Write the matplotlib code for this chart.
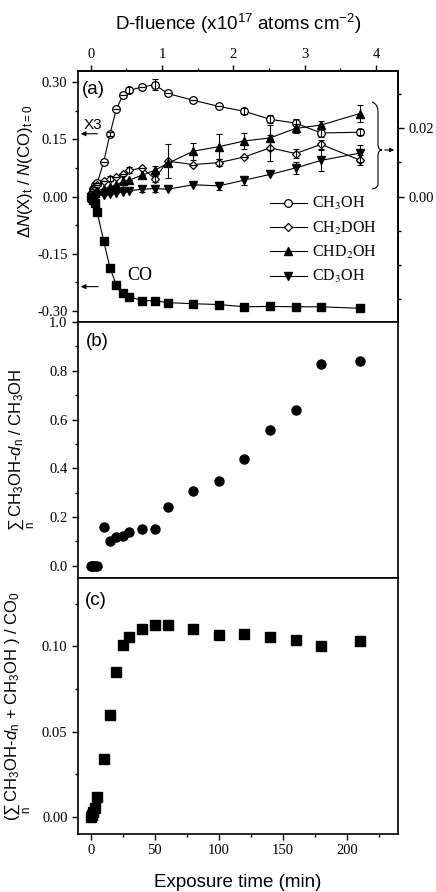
import matplotlib
matplotlib.use("Agg")
import matplotlib.pyplot as plt
from matplotlib.ticker import MultipleLocator, FormatStrFormatter
from matplotlib.path import Path
from matplotlib.patches import PathPatch

# temps d'exposition (min)
t = [0, 1, 2, 3, 5, 10, 15, 20, 25, 30, 40, 50, 60, 80, 100, 120, 140, 160, 180, 210]

# panneau (a)
co = [0, -0.004, -0.010, -0.018, -0.042, -0.116, -0.188, -0.233, -0.255, -0.263,
      -0.274, -0.274, -0.279, -0.282, -0.284, -0.290, -0.289, -0.290, -0.290, -0.294]
ch3oh = [0, 0.010, 0.020, 0.030, 0.035, 0.090, 0.165, 0.230, 0.266, 0.279,
         0.288, 0.294, 0.271, 0.253, 0.237, 0.224, 0.203, 0.193, 0.167, 0.169]
ch2doh = [0, 0.010, 0.020, 0.025, 0.030, 0.041, 0.047, 0.052, 0.060, 0.069,
          0.075, 0.047, 0.093, 0.084, 0.089, 0.104, 0.128, 0.113, 0.137, 0.096]
chd2oh = [0, 0.003, 0.006, 0.010, 0.015, 0.020, 0.025, 0.030, 0.040, 0.043,
          0.056, 0.069, 0.087, 0.119, 0.131, 0.146, 0.154, 0.179, 0.188, 0.218]
cd3oh = [0, -0.005, 0, 0.002, 0.003, 0.005, 0.007, 0.010, 0.012, 0.015,
         0.019, 0.021, 0.019, 0.031, 0.028, 0.043, 0.058, 0.075, 0.095, 0.114]

# barres d'erreur
err_ch3oh = [0, 0, 0, 0, 0, 0, 0.005, 0, 0, 0.008, 0, 0.014, 0, 0, 0, 0.008, 0.010, 0.012, 0.010, 0.008]
err_ch2doh = [0, 0, 0, 0, 0, 0, 0.006, 0, 0, 0.008, 0, 0.008, 0.045, 0, 0.010, 0, 0.035, 0.012, 0.012, 0.012]
err_chd2oh = [0, 0, 0, 0, 0, 0, 0, 0, 0.015, 0, 0, 0.012, 0, 0.022, 0.033, 0.020, 0.033, 0.012, 0.010, 0.022]
err_cd3oh = [0, 0, 0, 0, 0, 0, 0, 0, 0, 0, 0.008, 0.010, 0, 0, 0.010, 0.012, 0, 0.015, 0.028, 0.022]

# panneau (b)
ratio_d = [0, 0, 0, 0, 0, 0.158, 0.103, 0.117, 0.122, 0.138,
           0.152, 0.150, 0.241, 0.305, 0.347, 0.437, 0.556, 0.638, 0.826, 0.841]
# panneau (c)
ratio_co = [0, 0.001, 0.003, 0.005, 0.0115, 0.034, 0.060, 0.085, 0.1006, 0.1055,
            0.110, 0.1127, 0.1124, 0.110, 0.1065, 0.1073, 0.1055, 0.1037, 0.1004, 0.1033]

SERIF = "Liberation Serif"
SANS = "Liberation Sans"
plt.rcParams["font.family"] = SERIF
plt.rcParams["mathtext.fontset"] = "custom"
plt.rcParams["mathtext.rm"] = SANS
plt.rcParams["mathtext.it"] = SANS + ":italic"
plt.rcParams["mathtext.bf"] = SANS + ":bold"

W, H = 436, 892
fig = plt.figure(figsize=(W / 100, H / 100), dpi=100)

def box(top, bottom):
    return [78 / W, 1 - bottom / H, 320 / W, (bottom - top) / H]

ax1 = fig.add_axes(box(71, 322))
ax2 = fig.add_axes(box(322, 578), sharex=ax1)
ax3 = fig.add_axes(box(578, 834), sharex=ax1)

for ax in (ax1, ax2, ax3):
    for s in ax.spines.values():
        s.set_linewidth(1.2)
    ax.tick_params(which="both", direction="out", width=1, labelsize=10.5, right=False, top=False)
    ax.tick_params(which="major", length=4)
    ax.tick_params(which="minor", length=2.5)
    ax.xaxis.set_major_locator(MultipleLocator(50))
    ax.xaxis.set_minor_locator(MultipleLocator(25))
ax1.tick_params(labelbottom=False)
ax2.tick_params(labelbottom=False)
ax1.set_xlim(-10, 240)

# (a)
lw = 0.8
ax1.plot(t, co, "-s", color="k", lw=lw, ms=6, mfc="k", mec="k")
ax1.plot(t, ch3oh, "-o", color="k", lw=lw, ms=5.5, mfc="white", mec="k", mew=0.9, label="CH$_3$OH")
ax1.plot(t, ch2doh, "-D", color="k", lw=lw, ms=4.5, mfc="white", mec="k", mew=0.9, label="CH$_2$DOH")
ax1.plot(t, chd2oh, "-^", color="k", lw=lw, ms=6, mfc="k", mec="k", label="CHD$_2$OH")
ax1.plot(t, cd3oh, "-v", color="k", lw=lw, ms=6, mfc="k", mec="k", label="CD$_3$OH")
for y, e in [(ch3oh, err_ch3oh), (ch2doh, err_ch2doh), (chd2oh, err_chd2oh), (cd3oh, err_cd3oh)]:
    ax1.errorbar(t, y, yerr=e, fmt="none", ecolor="k", elinewidth=0.8, capsize=2, capthick=0.8)

ax1.set_ylim(-0.33, 0.33)
ax1.set_yticks([-0.30, -0.15, 0.0, 0.15, 0.30])
ax1.yaxis.set_minor_locator(MultipleLocator(0.075))
ax1.yaxis.set_major_formatter(FormatStrFormatter("%.2f"))
ax1.set_ylabel("Δ$\\mathit{N}$(X)$_\\mathrm{t}$ / $\\mathit{N}$(CO)$_\\mathrm{t=0}$",
               family=SANS, fontsize=12)
ax1.yaxis.set_label_coords(-0.135, 0.6)

top = ax1.secondary_xaxis("top", functions=(lambda x: x / 55.7, lambda f: f * 55.7))
top.set_xticks([0, 1, 2, 3, 4])
top.xaxis.set_minor_locator(MultipleLocator(0.5))
top.tick_params(which="both", direction="out", width=1, labelsize=10.5)
top.tick_params(which="major", length=4)
top.tick_params(which="minor", length=2.5)
top.spines["top"].set_linewidth(1.2)
top.set_xlabel("D-fluence (x10$^{17}$ atoms cm$^{\\mathrm{-2}}$)", family=SANS, fontsize=13.5, labelpad=13)

right = ax1.secondary_yaxis("right", functions=(lambda v: v / 9, lambda v: v * 9))
right.set_yticks([0.0, 0.02])
right.yaxis.set_minor_locator(MultipleLocator(0.01))
right.yaxis.set_major_formatter(FormatStrFormatter("%.2f"))
right.tick_params(which="both", direction="out", width=1, labelsize=10.5)
right.tick_params(which="major", length=4)
right.tick_params(which="minor", length=2.5)
right.spines["right"].set_linewidth(1.2)

leg = ax1.legend(loc="upper left", bbox_to_anchor=(0.6, 0.505), frameon=False,
                 prop={"family": SERIF, "size": 11.5}, handlelength=2.3,
                 handletextpad=0.3, labelspacing=0.45, borderpad=0, borderaxespad=0)
for txt in leg.get_texts():
    txt.set_math_fontfamily("stix")

ax1.text(0.012, 0.96, "(a)", transform=ax1.transAxes, family=SANS, fontsize=13.5, va="top")

# X3 et CO
ax1.annotate("", xy=(-10, 0.165), xytext=(7.5, 0.165),
             arrowprops=dict(arrowstyle="-|>", color="k", lw=0.8, mutation_scale=7))
ax1.text(1.5, 0.17, "X3", family=SANS, fontsize=11, ha="center", va="bottom")
ax1.annotate("", xy=(-10, -0.237), xytext=(8, -0.237),
             arrowprops=dict(arrowstyle="-|>", color="k", lw=0.8, mutation_scale=7))
ax1.text(38, -0.208, "CO", family=SERIF, fontsize=13, ha="center", va="center")

# accolade a droite
def fx(px):
    return (px - 78) / 320

def fy(py):
    return 1 - (py - 71) / 251

pts = [(372, 102), (378, 104), (378, 112), (378, 144), (378, 150), (382, 150),
       (378, 150), (378, 156), (378, 184), (378, 188), (372, 189)]
codes = [Path.MOVETO, Path.CURVE3, Path.CURVE3, Path.LINETO, Path.CURVE3, Path.CURVE3,
         Path.CURVE3, Path.CURVE3, Path.LINETO, Path.CURVE3, Path.CURVE3]
path = Path([(fx(a), fy(b)) for a, b in pts], codes)
ax1.add_patch(PathPatch(path, transform=ax1.transAxes, fill=False, lw=0.8, ec="k", clip_on=False))
ax1.annotate("", xy=(fx(397), fy(150)), xytext=(fx(382), fy(150)), xycoords="axes fraction",
             textcoords="axes fraction",
             arrowprops=dict(arrowstyle="-|>", color="k", lw=0.8, mutation_scale=6))

# (b)
ax2.plot(t, ratio_d, "o", color="k", ms=6.5)
ax2.set_ylim(-0.05, 1.0)
ax2.yaxis.set_major_locator(MultipleLocator(0.2))
ax2.yaxis.set_minor_locator(MultipleLocator(0.1))
ax2.yaxis.set_major_formatter(FormatStrFormatter("%.1f"))
ax2.set_ylabel("$\\sum_\\mathrm{n}$ CH$_3$OH-$\\mathit{d}_\\mathrm{n}$ / CH$_3$OH", family=SANS, fontsize=12)
ax2.yaxis.set_label_coords(-0.128, 0.5)
ax2.text(0.025, 0.957, "(b)", transform=ax2.transAxes, family=SANS, fontsize=13.5, va="top")

# (c)
ax3.plot(t, ratio_co, "s", color="k", ms=6.5)
ax3.set_ylim(-0.01, 0.14)
ax3.yaxis.set_major_locator(MultipleLocator(0.05))
ax3.yaxis.set_minor_locator(MultipleLocator(0.025))
ax3.yaxis.set_major_formatter(FormatStrFormatter("%.2f"))
ax3.set_ylabel("($\\sum_\\mathrm{n}$ CH$_3$OH-$\\mathit{d}_\\mathrm{n}$ + CH$_3$OH ) / CO$_0$",
               family=SANS, fontsize=12)
ax3.yaxis.set_label_coords(-0.14, 0.5)
ax3.text(0.022, 0.945, "(c)", transform=ax3.transAxes, family=SANS, fontsize=13.5, va="top")
ax3.set_xlabel("Exposure time (min)", family=SANS, fontsize=13.5, labelpad=12)

fig.savefig("out.png", dpi=100)
